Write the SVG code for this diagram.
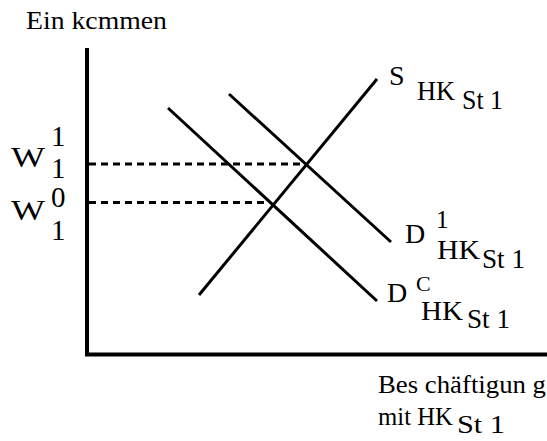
<svg xmlns="http://www.w3.org/2000/svg" width="547" height="441" viewBox="0 0 547 441">
<style>
text{font-family:'Liberation Serif','Times New Roman',Times,serif;fill:#000}
.t{font-size:25px}
.w{font-size:29px}
.r{font-size:28px}
.s{font-size:22px}
.s1{font-size:25px}
.ln{stroke:#000;stroke-width:3;fill:none}
.ax{stroke:#000;stroke-width:4;fill:none}
.ds{stroke:#000;stroke-width:3;stroke-dasharray:7 5;fill:none}
</style>
<rect width="547" height="441" fill="#fff"/>
<g id="axes">
<line class="ax" x1="87" y1="48" x2="87" y2="356"/>
<line class="ax" x1="85" y1="354.5" x2="547" y2="354.5"/>
</g>
<g id="connectors">
<line class="ds" x1="89" y1="164" x2="305" y2="164"/>
<line class="ds" x1="89" y1="202.5" x2="266" y2="202.5"/>
</g>
<g id="curve-S">
<line class="ln" x1="199" y1="295" x2="377" y2="79"/>
<text class="r" x="389" y="85">S</text>
<text class="r" x="417" y="100" textLength="38" lengthAdjust="spacingAndGlyphs">HK</text>
<text class="r" x="462" y="109" textLength="41" lengthAdjust="spacingAndGlyphs">St 1</text>
</g>
<g id="curve-D1">
<line class="ln" x1="229" y1="94" x2="391" y2="242"/>
<text class="r" x="405" y="243">D</text>
<text class="s1" x="436" y="228">1</text>
<text class="r" x="437" y="259" textLength="43" lengthAdjust="spacingAndGlyphs">HK</text>
<text class="r" x="482" y="268" textLength="43" lengthAdjust="spacingAndGlyphs">St 1</text>
</g>
<g id="curve-D0">
<line class="ln" x1="168" y1="108" x2="377" y2="301"/>
<text class="r" x="387" y="302">D</text>
<text class="s" x="416" y="291">C</text>
<text class="r" x="421" y="320" textLength="42" lengthAdjust="spacingAndGlyphs">HK</text>
<text class="r" x="467" y="328" textLength="43" lengthAdjust="spacingAndGlyphs">St 1</text>
</g>
<g id="label-y">
<text class="t" x="26" y="29" textLength="141" lengthAdjust="spacingAndGlyphs">Ein kcmmen</text>
</g>
<g id="label-w1">
<text class="w" x="51" y="146">1</text>
<text class="w" x="11" y="167" textLength="34" lengthAdjust="spacingAndGlyphs">W</text>
<text class="w" x="51" y="178">1</text>
</g>
<g id="label-w0">
<text class="w" x="51" y="207">0</text>
<text class="w" x="11" y="220" textLength="34" lengthAdjust="spacingAndGlyphs">W</text>
<text class="w" x="51" y="240">1</text>
</g>
<g id="label-x">
<text class="t" x="378" y="393" textLength="168" lengthAdjust="spacingAndGlyphs">Bes chäftigun g</text>
<text class="t" x="378" y="425" textLength="75" lengthAdjust="spacingAndGlyphs">mit HK</text>
<text class="t" x="457" y="433" textLength="48" lengthAdjust="spacingAndGlyphs">St 1</text>
</g>
</svg>
